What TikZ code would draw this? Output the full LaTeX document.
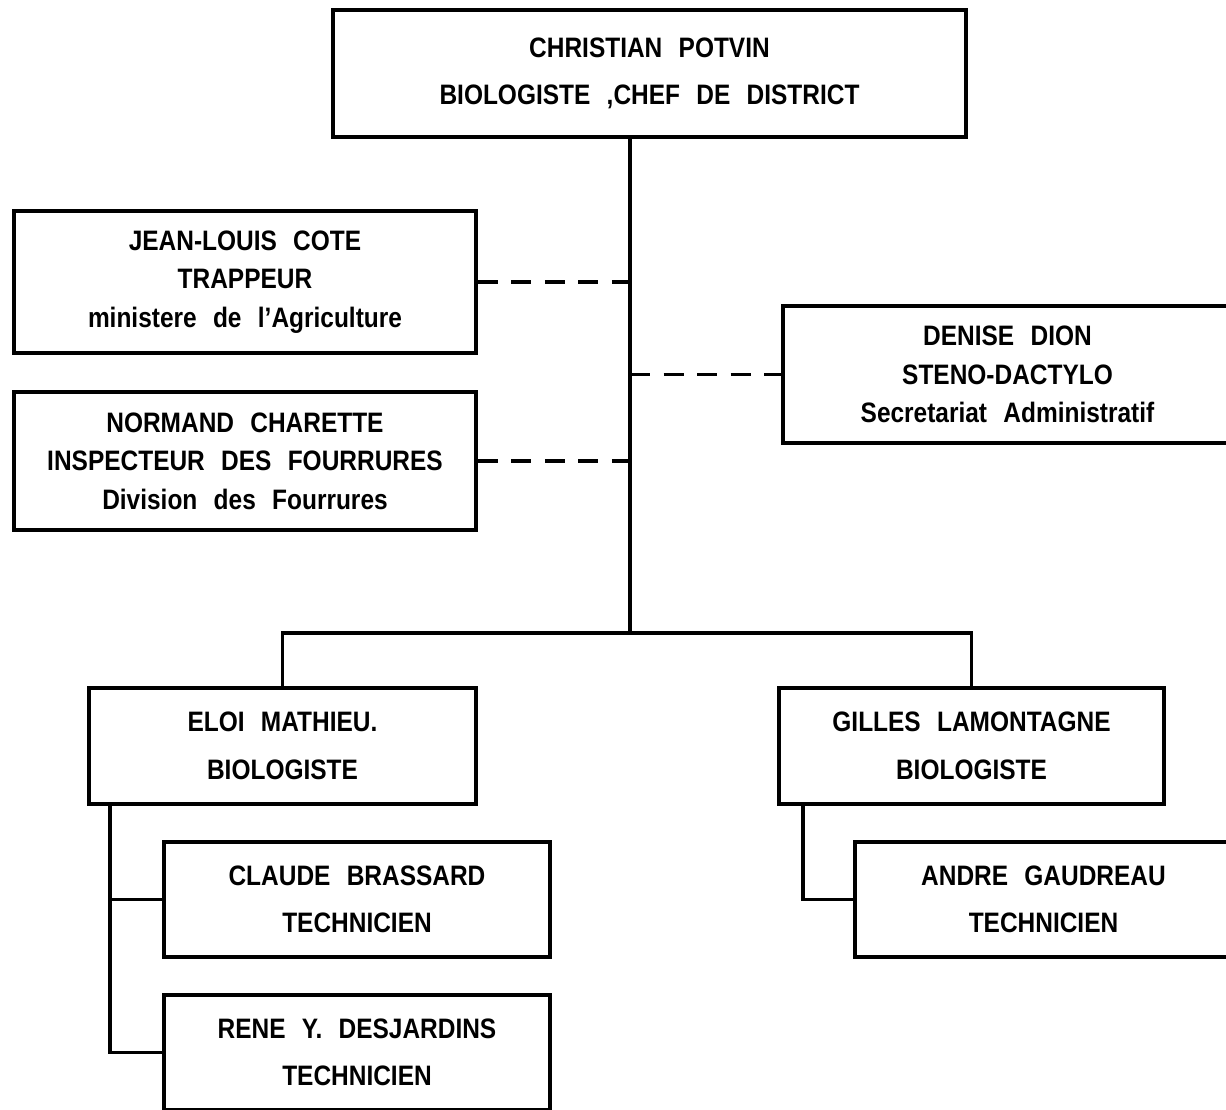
\documentclass[tikz,border=0pt]{standalone}
\usepackage{fontspec}
\setmainfont{Liberation Sans}[FakeStretch=0.87,WordSpace=2.4,UprightFont=* Bold]
\usepackage{tikz}
\usetikzlibrary{positioning}

\begin{document}
\begin{tikzpicture}[x=0.1mm,y=-0.1mm,line width=0.9pt,
	box/.style={draw,line width=1pt,align=center,inner sep=0pt,
		font=\fontsize{8}{13.5}\selectfont},
	threeline/.style={font=\fontsize{8}{11}\selectfont},
	staff/.style={dash pattern=on 2mm off 1.35mm}]
	\useasboundingbox (0,0) rectangle (1226,1109);
	\clip (0,0) rectangle (1226,1109);

	  \node[box,minimum width=63.3mm,minimum height=12.7mm] (chef) at (649.5,73.5) {CHRISTIAN POTVIN\\BIOLOGISTE ,CHEF DE DISTRICT};
	  \node[box,threeline,minimum width=46.2mm,minimum height=14.2mm] (cote) at (245,282) {JEAN-LOUIS COTE\\TRAPPEUR\\ministere de l'Agriculture};
	  \node[box,threeline,minimum width=46.2mm,minimum height=13.8mm] (charette) at (245,461) {NORMAND CHARETTE\\INSPECTEUR DES FOURRURES\\Division des Fourrures};
	  \node[box,threeline,minimum width=44.9mm,minimum height=13.7mm] (dion) at (1007.5,374.5) {DENISE DION\\STENO-DACTYLO\\Secretariat Administratif};
	  \node[box,minimum width=38.7mm,minimum height=11.6mm] (mathieu) at (282.5,746) {ELOI MATHIEU.\\BIOLOGISTE};
	  \node[box,minimum width=38.5mm,minimum height=11.6mm] (lamontagne) at (971.5,746) {GILLES LAMONTAGNE\\BIOLOGISTE};
	  \node[box,minimum width=38.6mm,minimum height=11.5mm] (brassard) at (357,899.5) {CLAUDE BRASSARD\\TECHNICIEN};
	  \node[box,minimum width=38.6mm,minimum height=11.5mm] (desjardins) at (357,1052.5) {RENE Y. DESJARDINS\\TECHNICIEN};
	  \node[box,minimum width=37.7mm,minimum height=11.5mm] (gaudreau) at (1043.5,899.5) {ANDRE GAUDREAU\\TECHNICIEN};

	  % branch points
	  \coordinate (hub) at (630,633);
	  \coordinate (ltop) at (110,804);
	  \coordinate (rtop) at (803,804);

	  \draw (chef.south -| hub) -- (hub);
	  \draw (mathieu.north) |- (hub) -| (lamontagne.north);
	  \draw[staff] (cote.east) -- (cote.east -| hub);
	  \draw[staff] (charette.east) -- (charette.east -| hub);
	  \draw[staff] (hub |- dion.west) -- (dion.west);
	  \draw (ltop) |- (brassard.west);
	  \draw (ltop) |- (desjardins.west);
	  \draw (rtop) |- (gaudreau.west);
	\end{tikzpicture}
\end{document}
